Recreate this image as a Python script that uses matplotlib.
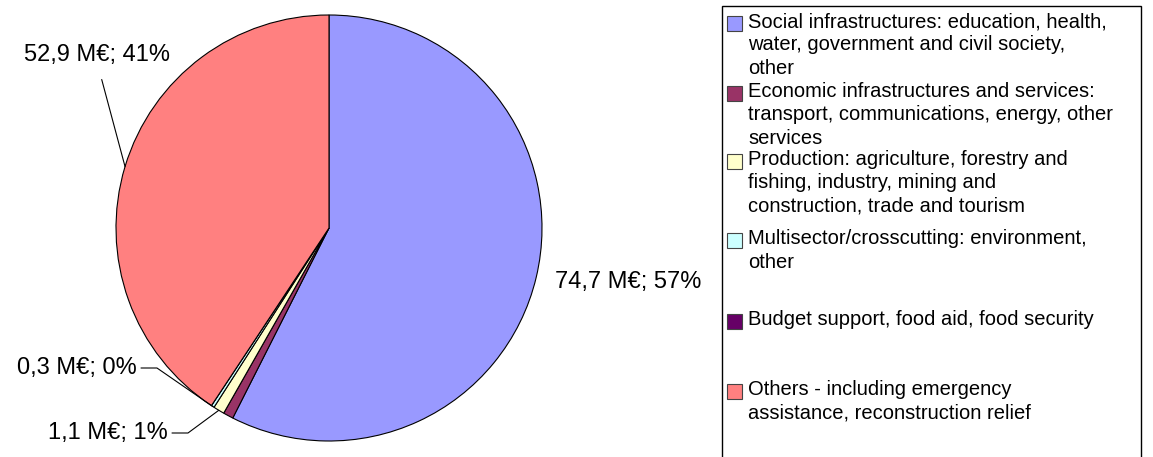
import numpy as np
import matplotlib
matplotlib.use('Agg')
import matplotlib.pyplot as plt
from matplotlib.patches import Rectangle

plt.rcParams['font.family'] = ['Liberation Sans', 'DejaVu Sans']

# data (M EUR)
categories = [
    "Social infrastructures: education, health,\nwater, government and civil society,\nother",
    "Economic infrastructures and services:\ntransport, communications, energy, other\nservices",
    "Production: agriculture, forestry and\nfishing, industry, mining and\nconstruction, trade and tourism",
    "Multisector/crosscutting: environment,\nother",
    "Budget support, food aid, food security",
    "Others - including emergency\nassistance, reconstruction relief",
]
values = [74.7, 1.0, 1.1, 0.3, 0.0, 52.9]
colors = ['#9999FF', '#993366', '#FFFFCC', '#CCFFFF', '#660066', '#FF8080']
labelled = [0, 2, 3, 5]

W, H = 1153, 457
fig = plt.figure(figsize=(W / 100, H / 100), dpi=100)
ax = fig.add_axes([0, 0, 1, 1])

# pie in pixel coordinates (y up)
cx, cy, r = 329, H - 228, 213
wedges, _ = ax.pie(values, colors=colors, startangle=90, counterclock=False,
                   center=(cx, cy), radius=r, frame=True,
                   wedgeprops=dict(edgecolor='black', linewidth=0.8))
ax.set_xlim(0, W)
ax.set_ylim(0, H)
ax.set_aspect('equal')
ax.axis('off')

total = sum(values)


def lab(v):
    return "{0} M€; {1:.0f}%".format(("%.1f" % v).replace('.', ','), v / total * 100)


def edge_point(w):
    a = np.deg2rad((w.theta1 + w.theta2) / 2)
    return cx + r * np.cos(a), cy + r * np.sin(a)


fs = 17
# label positions (pixels, image y down)
lab_pos = {
    0: dict(xy=(555, 282), ha='left'),
    2: dict(xy=(168, 433), ha='right'),
    3: dict(xy=(137, 368), ha='right'),
    5: dict(xy=(97, 55), ha='center'),
}
for i in labelled:
    p = lab_pos[i]
    tx, ty = p['xy'][0], H - p['xy'][1]
    if i == 0:
        ax.text(tx, ty, lab(values[i]), fontsize=fs, ha=p['ha'], va='center')
        continue
    ex, ey = edge_point(wedges[i])
    if i == 5:
        ax.annotate(lab(values[i]), xy=(ex, ey), xytext=(tx, ty), fontsize=fs,
                    ha=p['ha'], va='center',
                    arrowprops=dict(arrowstyle='-', color='black', lw=0.8,
                                    shrinkA=8, shrinkB=0, relpos=(0.5, 0),
                                    connectionstyle="angle,angleA=-80,angleB=-75,rad=0"))
    else:
        ax.text(tx, ty, lab(values[i]), fontsize=fs, ha=p['ha'], va='center')
        x0 = tx + 4
        ang = np.degrees(np.arctan2(ey - ty, ex - (x0 + 16)))
        ax.annotate('', xy=(ex, ey), xytext=(x0, ty),
                    arrowprops=dict(arrowstyle='-', color='black', lw=0.8,
                                    shrinkA=0, shrinkB=0,
                                    connectionstyle="angle,angleA=0,angleB=%.1f,rad=0" % ang))

# legend (manual, Excel-like spacing)
ax.add_patch(Rectangle((722, -5), 1141 - 722, H - 6 + 5, fill=False,
                       edgecolor='black', linewidth=1, clip_on=False))
leg_y = [23, 93, 161, 240, 321, 391]
for c, txt, y in zip(colors, categories, leg_y):
    ax.add_patch(Rectangle((727, H - y - 7.5), 15, 15, facecolor=c,
                           edgecolor='#444444', linewidth=0.8))
    ax.text(748, H - y + 11, txt, fontsize=14.5, ha='left', va='top', linespacing=1.3)

fig.savefig('out.png', dpi=100)
